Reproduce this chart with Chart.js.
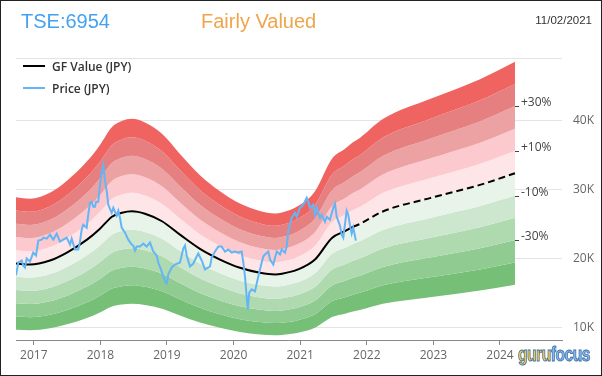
<!DOCTYPE html>
<html>
<head>
<meta charset="utf-8">
<script src="https://cdn.jsdelivr.net/npm/chart.js@4.4.0/dist/chart.umd.min.js"></script>
<style>
  html, body { margin: 0; padding: 0; background: #fff; }
  #wrap { position: relative; width: 602px; height: 376px; overflow: hidden; font-family: "Liberation Sans", Arial, sans-serif; }
  #wrap canvas { position: absolute; left: 0; top: 0; }
  .hd { position: absolute; white-space: nowrap; line-height: 1; }
  #ticker { left: 21px; top: 11px; font-size: 20px; color: #45a2f2; }
  #status { left: 201px; top: 11px; font-size: 20px; color: #f0a54c; }
  #date { right: 10px; top: 15px; font-size: 11.5px; color: #333; }
  #sep { position: absolute; left: 16px; top: 58px; width: 546px; height: 1px; background: #e3e3e3; }
  .leg { position: absolute; left: 23px; height: 14px; display: flex; align-items: center;
         font: 600 12px "Open Sans", sans-serif; color: #333; white-space: nowrap; }
  .leg i { display: inline-block; width: 22px; height: 2px; margin-right: 7px; }
  #logo { position: absolute; left: 518px; top: 344px; font: bold 20px "Liberation Sans", Arial, sans-serif;
          letter-spacing: -0.6px; -webkit-text-stroke: 0.9px #3d6fa8; line-height: 1;
          transform: scaleX(0.78); transform-origin: left top; }
  #logo .g { color: #f7c844; }
  #logo .f { color: #86b8ea; }
  #frame { position: absolute; left: 0; top: 0; width: 600px; height: 374px; border: 1px solid #222; pointer-events: none; }
</style>
</head>
<body>
<div id="wrap">
  <canvas id="gfChart" width="602" height="376"></canvas>
  <div class="hd" id="ticker">TSE:6954</div>
  <div class="hd" id="status">Fairly Valued</div>
  <div class="hd" id="date">11/02/2021</div>
  <div id="sep"></div>
  <div class="leg" style="top:59px"><i style="background:#000"></i>GF Value (JPY)</div>
  <div class="leg" style="top:81px"><i style="background:#64b5f6"></i>Price (JPY)</div>
  <div id="logo"><span class="g">guru</span><span class="f">focus</span></div>
  <div id="frame"></div>
</div>
<script>
// dates are fractional years
const TODAY = 2021.79;

// GF Value (JPY)
const gfDates = [2016.733, 2016.943, 2017.243, 2017.498, 2017.799, 2017.994, 2018.174, 2018.324,
  2018.474, 2018.670, 2018.925, 2019.195, 2019.495, 2019.796, 2020.096, 2020.396, 2020.622,
  2020.727, 2020.967, 2021.222, 2021.477, 2021.673, 2021.791, 2021.896, 2022.241, 2022.949,
  2023.700, 2024.225];
const gfValues = [19260, 19120, 19700, 20850, 22730, 24320, 26050, 26630,
  26850, 26490, 25400, 23450, 21390, 19840, 18640, 17920, 17680,
  17780, 18400, 19840, 22980, 23950, 24570, 25000, 26820, 28760,
  30680, 32370];

// Price (JPY)
const priceDates = [2016.733, 2016.767, 2016.793, 2016.818, 2016.842, 2016.868, 2016.893, 2016.943,
  2016.992, 2017.033, 2017.068, 2017.119, 2017.143, 2017.194, 2017.243, 2017.293, 2017.344,
  2017.393, 2017.443, 2017.494, 2017.544, 2017.569, 2017.619, 2017.668, 2017.694, 2017.719,
  2017.743, 2017.794, 2017.818, 2017.844, 2017.869, 2017.893, 2017.919, 2017.934, 2017.968,
  2017.994, 2018.020, 2018.044, 2018.069, 2018.095, 2018.119, 2018.144, 2018.170, 2018.194,
  2018.245, 2018.269, 2018.294, 2018.320, 2018.369, 2018.419, 2018.470, 2018.494, 2018.520,
  2018.545, 2018.595, 2018.644, 2018.695, 2018.745, 2018.794, 2018.845, 2018.869, 2018.920,
  2018.970, 2018.996, 2019.020, 2019.071, 2019.120, 2019.195, 2019.245, 2019.270, 2019.296,
  2019.345, 2019.395, 2019.446, 2019.470, 2019.521, 2019.571, 2019.596, 2019.646, 2019.671,
  2019.721, 2019.770, 2019.821, 2019.871, 2019.920, 2019.971, 2020.021, 2020.071, 2020.122,
  2020.146, 2020.171, 2020.197, 2020.212, 2020.236, 2020.272, 2020.321, 2020.371, 2020.422,
  2020.446, 2020.471, 2020.521, 2020.547, 2020.596, 2020.647, 2020.697, 2020.722, 2020.772,
  2020.797, 2020.821, 2020.872, 2020.922, 2020.947, 2020.997, 2021.047, 2021.098, 2021.122,
  2021.147, 2021.197, 2021.222, 2021.248, 2021.297, 2021.323, 2021.372, 2021.398, 2021.447,
  2021.497, 2021.523, 2021.548, 2021.598, 2021.623, 2021.647, 2021.698, 2021.722, 2021.748,
  2021.773, 2021.797, 2021.836];
const priceValues = [17530, 19410, 19550, 19700, 18980, 18690, 19990, 19550,
  20850, 20420, 22590, 22730, 23020, 22880, 23460, 22730, 23600,
  22440, 22730, 23020, 22010, 22880, 21290, 21290, 22440, 24180,
  24900, 24470, 26350, 28080, 28220, 27500, 27500, 28220, 28220,
  30680, 32560, 33570, 31260, 29810, 27790, 27210, 26630, 27350,
  26200, 26920, 25910, 24470, 23740, 22730, 22010, 21870, 21140,
  21720, 21720, 22150, 21720, 22300, 21000, 20420, 19410, 18110,
  16660, 16380, 17680, 18690, 19120, 19410, 21430, 21870, 20420,
  18830, 19260, 20280, 20710, 19700, 18400, 18540, 18830, 20130,
  21000, 21720, 21720, 21000, 21290, 20850, 21000, 20850, 21000,
  19410, 17390, 14350, 12620, 15080, 15510, 15220, 17390, 19410,
  20280, 20570, 21000, 19840, 19120, 21000, 20570, 21290, 20850,
  21720, 23890, 25910, 26630, 26060, 27350, 27790, 28800, 28220,
  27350, 27790, 26350, 27350, 25910, 26350, 25330, 26060, 25620,
  27350, 27940, 26060, 24760, 23460, 23020, 26920, 26350, 24760,
  23600, 24470, 22590];

// band edges as multiples of GF Value, top to bottom
const bandSteps = [1.5, 1.4, 1.3, 1.2, 1.1, 1.0, 0.9, 0.8, 0.7, 0.6, 0.5];
const bandColors = ['#ef6461', '#e57f80', '#eca2a2', '#fcc9ce', '#fee5e7',
                    '#e8f4e9', '#cde7ce', '#afdab0', '#90cc91', '#75c076'];
const labelSteps = [1.3, 1.1, 0.9, 0.7];
const labelTexts = ['+30%', '+10%', '-10%', '-30%'];

const xTicks = [2017, 2018, 2019, 2020, 2021, 2022, 2023, 2024];
const yTicks = [10000, 20000, 30000, 40000];

Chart.defaults.font.family = '"Open Sans", sans-serif';

const toPoints = (xs, ys) => xs.map((x, i) => ({ x: x, y: ys[i] }));

const bandSets = bandSteps.map((m, i) => ({
  data: toPoints(gfDates, gfValues.map(v => v * m)),
  fill: i < bandSteps.length - 1 ? '+1' : false,
  backgroundColor: bandColors[i] || 'transparent',
  borderWidth: 0,
  pointRadius: 0,
  cubicInterpolationMode: 'monotone',
  order: 5
}));

// little tick + text at the end of the bands
const bandLabels = {
  id: 'bandLabels',
  afterDatasetsDraw(chart) {
    const ctx = chart.ctx;
    const xs = chart.scales.x, ys = chart.scales.y;
    const last = gfValues.length - 1;
    const x0 = Math.round(xs.getPixelForValue(gfDates[last]));
    ctx.save();
    ctx.font = '12px "Open Sans", sans-serif';
    ctx.fillStyle = '#444';
    ctx.strokeStyle = '#444';
    ctx.lineWidth = 1;
    ctx.textBaseline = 'middle';
    labelSteps.forEach((m, i) => {
      const y = Math.round(ys.getPixelForValue(gfValues[last] * m));
      ctx.beginPath();
      ctx.moveTo(x0, y + 0.5);
      ctx.lineTo(x0 + 4, y + 0.5);
      ctx.stroke();
      ctx.fillText(labelTexts[i], x0 + 6, y - 3);
    });
    ctx.restore();
  }
};

new Chart(document.getElementById('gfChart'), {
  type: 'line',
  data: {
    datasets: bandSets.concat([
      {
        label: 'GF Value (JPY)',
        data: toPoints(gfDates, gfValues),
        borderColor: '#000',
        borderWidth: 2,
        pointRadius: 0,
        fill: false,
        cubicInterpolationMode: 'monotone',
        segment: { borderDash: c => c.p0.parsed.x >= TODAY ? [7, 4] : undefined },
        order: 1
      },
      {
        label: 'Price (JPY)',
        data: toPoints(priceDates, priceValues),
        borderColor: '#64b5f6',
        borderWidth: 2,
        pointRadius: 0,
        fill: false,
        tension: 0,
        order: 0
      }
    ])
  },
  options: {
    responsive: false,
    animation: false,
    layout: { padding: { left: 16, top: 60, right: 0, bottom: 0 } },
    plugins: { legend: { display: false }, tooltip: { enabled: false } },
    scales: {
      x: {
        type: 'linear',
        min: 2016.733,
        max: 2024.931,
        afterBuildTicks: s => { s.ticks = xTicks.map(v => ({ value: v })); },
        afterFit: s => { s.height = 36; },
        ticks: { callback: v => String(v), color: '#666', font: { size: 12 }, padding: 3, maxRotation: 0, autoSkip: false },
        grid: { drawOnChartArea: false, drawTicks: true, tickLength: 5, tickColor: '#888' },
        border: { color: '#888' }
      },
      y: {
        position: 'right',
        min: 8156,
        max: 48814,
        afterBuildTicks: s => { s.ticks = yTicks.map(v => ({ value: v })); },
        afterFit: s => { s.width = 40; },
        ticks: { callback: v => (v / 1000) + 'K', color: '#666', font: { size: 12 }, padding: 11 },
        grid: { color: '#e4e4e4', drawTicks: false },
        border: { display: false }
      }
    }
  },
  plugins: [bandLabels]
});
</script>
</body>
</html>
